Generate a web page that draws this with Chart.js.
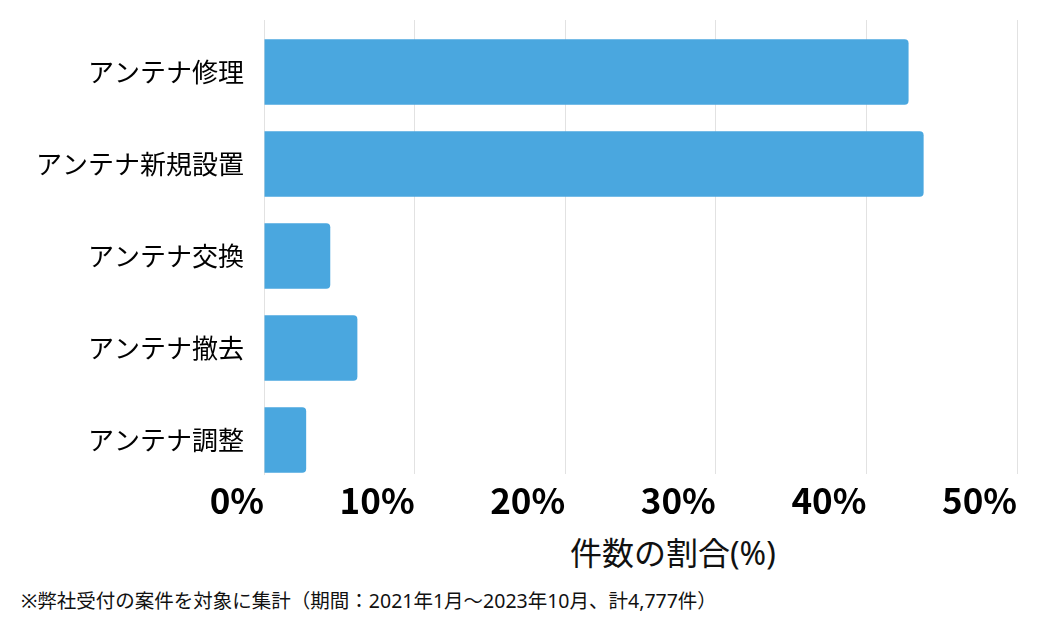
<!DOCTYPE html>
<html lang="ja">
<head>
<meta charset="utf-8">
<script src="https://cdn.jsdelivr.net/npm/chart.js@4.4.0/dist/chart.umd.min.js"></script>
<style>
  html, body { margin: 0; padding: 0; background: #fff; }
  body { width: 1054px; height: 629px; position: relative; overflow: hidden;
         font-family: 'Noto Sans', 'Noto Sans CJK JP', sans-serif; color: #111; }
  #wrap { position: absolute; left: 0; top: 0; width: 1054px; height: 530px; }
  #axis-title { position: absolute; top: 537px; left: 570px; font-size: 32px; line-height: 1; white-space: nowrap; }
  #note { position: absolute; top: 591px; left: 21px; font-size: 19.5px; line-height: 1; white-space: nowrap; }
</style>
</head>
<body>
<div id="wrap"><canvas id="chart"></canvas></div>
<div id="axis-title">件数の割合(%)</div>
<div id="note">※弊社受付の案件を対象に集計（期間：2021年1月～2023年10月、計4,777件）</div>
<script>
// カテゴリと割合(%)
const categories = ['アンテナ修理', 'アンテナ新規設置', 'アンテナ交換', 'アンテナ撤去', 'アンテナ調整'];
const shares = [42.8, 43.8, 4.4, 6.2, 2.8];
const xTicks = [0, 10, 20, 30, 40, 50];

const BAR_COLOR = '#4aa7df';
const GRID_COLOR = '#e2e2e2';

// y軸の表示範囲(カテゴリ番号)
const Y_MIN = -0.565;
const Y_MAX = 4.369;

const points = shares.map((v, i) => ({ x: v, y: i }));

new Chart(document.getElementById('chart'), {
    type: 'bar',
    data: {
        datasets: [{
            data: points,
            backgroundColor: BAR_COLOR,
            borderRadius: 4,
            borderSkipped: 'start',
            categoryPercentage: 0.8,
            barPercentage: 0.89
        }]
    },
    options: {
        indexAxis: 'y',
        responsive: true,
        maintainAspectRatio: false,
        animation: false,
        layout: { padding: { top: 20, right: 37, left: 0, bottom: 0 } },
        plugins: { legend: { display: false }, tooltip: { enabled: false } },
        scales: {
            x: {
                type: 'linear',
                min: xTicks[0],
                max: xTicks[xTicks.length - 1],
                afterBuildTicks: (scale) => { scale.ticks = xTicks.map(v => ({ value: v })); },
                afterFit: (scale) => { scale.height = 56; },
                grid: { color: GRID_COLOR, drawTicks: false },
                border: { display: false },
                ticks: {
                    align: 'end',
                    padding: 6,
                    color: '#000',
                    font: { family: "'Noto Sans CJK JP'", size: 35, weight: 'bold' },
                    callback: (v) => v + '%'
                }
            },
            y: {
                type: 'linear',
                bounds: 'data',
                reverse: true,
                offset: false,
                afterDataLimits: (scale) => { scale.min = Y_MIN; scale.max = Y_MAX; },
                afterBuildTicks: (scale) => { scale.ticks = categories.map((c, i) => ({ value: i })); },
                afterFit: (scale) => { scale.width = 264; },
                grid: { display: false },
                border: { color: GRID_COLOR },
                ticks: {
                    autoSkip: false,
                    padding: 12,
                    color: '#000',
                    font: { family: "'Noto Sans CJK JP'", size: 26, lineHeight: 0.5 },
                    callback: (v) => categories[Math.round(v)]
                }
            }
        }
    }
});
</script>
</body>
</html>
